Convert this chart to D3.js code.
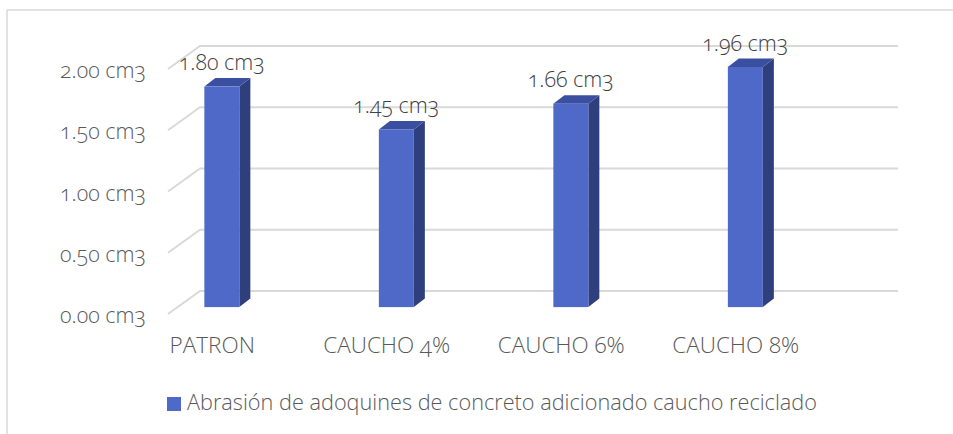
<!DOCTYPE html>
<html><head><meta charset="utf-8">
<script src="https://cdn.jsdelivr.net/npm/d3@7"></script>
<style>
body{margin:0;background:#fff;}
text{font-family:"Open Sans",sans-serif;fill:#595959;font-weight:330;}
.num{font-variant-numeric:oldstyle-nums;font-feature-settings:"onum" 1;}
</style></head>
<body><svg id="c" width="953" height="434"></svg>
<script>
const categories = ["PATRON","CAUCHO 4%","CAUCHO 6%","CAUCHO 8%"];
const values = [1.80, 1.45, 1.66, 1.96];
const yTicks = [0, 0.5, 1.0, 1.5, 2.0];
const seriesName = "Abrasión de adoquines de concreto adicionado caucho reciclado";
const unit = " cm3";

const svg = d3.select("#c");
svg.append("line").attr("x1",7).attr("y1",10).attr("x2",953).attr("y2",10).attr("stroke","#d9d9d9").attr("stroke-width",1.5);
svg.append("line").attr("x1",7).attr("y1",10).attr("x2",7).attr("y2",434).attr("stroke","#d9d9d9").attr("stroke-width",1.5);

const yF = d3.scaleLinear().domain([0,2]).range([314,69]);
const depthX = 32, depthY = -23;
const barDepthT = 0.3;
const barDX = 11, barDY = -8.5;
const x = d3.scaleBand().domain(categories).range([125,823]);
const barW = 35;
const backRight = 898;

const g = svg.append("g");
yTicks.forEach(v=>{
  const yf = yF(v), yb = yf + depthY;
  g.append("path").attr("d",`M168,${yf}L${168+depthX},${yb}L${backRight},${yb}`)
    .attr("fill","none").attr("stroke","#d9d9d9").attr("stroke-width",2);
  svg.append("text").attr("class","num").attr("x",146).attr("y",yf+9)
    .attr("text-anchor","end").attr("font-size",21.5).text(d3.format(".2f")(v)+unit);
});

const yBar = v => yF(v) + barDepthT*depthY;
categories.forEach((c,i)=>{
  const cx = x(c) + x.bandwidth()/2 + barDepthT*depthX;
  const l = cx - barW/2, r = cx + barW/2;
  const t = yBar(values[i]), b = yBar(0);
  svg.append("path").attr("d",`M${r},${t}L${r+barDX},${t+barDY}L${r+barDX},${b+barDY}L${r},${b}Z`).attr("fill","#2f3f7e");
  svg.append("path").attr("d",`M${l},${t}L${l+barDX},${t+barDY}L${r+barDX},${t+barDY}L${r},${t}Z`).attr("fill","#3a4fa0");
  svg.append("rect").attr("x",l).attr("y",t).attr("width",barW).attr("height",b-t).attr("fill","#4e69c7");
  svg.append("text").attr("class","num").attr("x",cx).attr("y",t-16.5).attr("text-anchor","middle")
    .attr("font-size",21.5).style("fill","#404040").text(d3.format(".2f")(values[i])+unit);
  svg.append("text").attr("class","num").attr("x",x(c)+x.bandwidth()/2).attr("y",353).attr("text-anchor","middle")
    .attr("font-size",22.5).text(c);
});

svg.append("rect").attr("x",167).attr("y",397).attr("width",14).attr("height",14).attr("fill","#4e69c7");
svg.append("text").attr("x",187).attr("y",410).attr("font-size",21.7).text(seriesName);
</script></body></html>
